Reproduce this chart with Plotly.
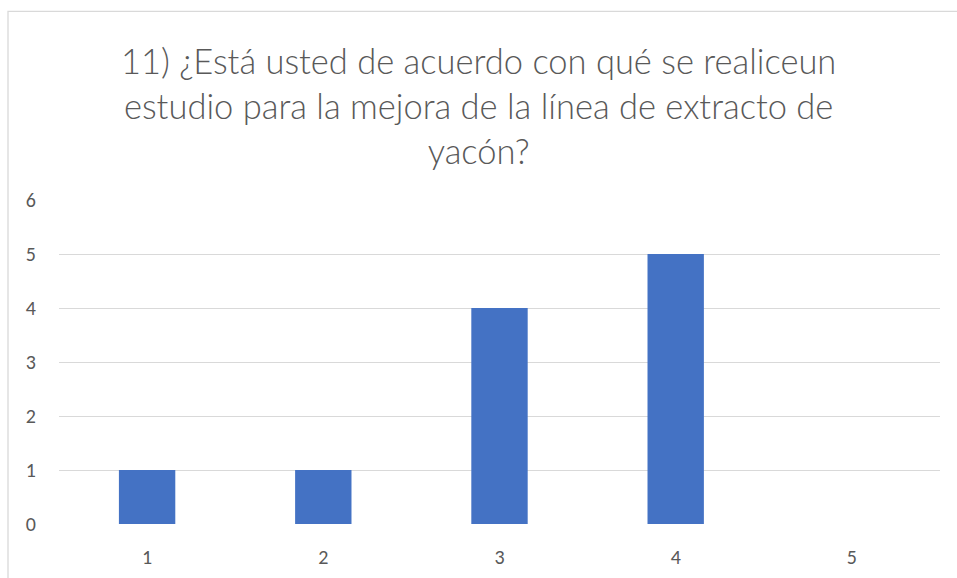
import plotly.graph_objects as go

categories = ["1", "2", "3", "4", "5"]
values = [1, 1, 4, 5, 0]
title_lines = ["11) ¿Está usted de acuerdo con qué se realiceun",
               "estudio para la mejora de la línea de extracto de",
               "yacón?"]

W, H = 957, 578
L, R, T, B = 59, 17, 200, 53.5
pw, ph = W - L - R, H - T - B

fig = go.Figure(go.Bar(x=categories, y=values, marker_color="#4472C4",
                       marker_line_width=0))

FONT = "Carlito, 'Liberation Sans Narrow', 'Open Sans', sans-serif"
TFONT = "Lato, Carlito, 'Open Sans', sans-serif"

def px_x(x):
    return (x - L) / pw

def px_y(y):
    return (H - B - y) / ph

fig.update_layout(
    width=W, height=H,
    margin=dict(l=L, r=R, t=T, b=B),
    paper_bgcolor="white", plot_bgcolor="white",
    bargap=0.68,
    showlegend=False,
    font=dict(family=FONT, color="#595959", size=20),
    xaxis=dict(type="category", showgrid=False, zeroline=False, showline=False,
               automargin=False,
               ticks="", ticklabelstandoff=19, tickfont=dict(size=20, color="#595959")),
    yaxis=dict(range=[0, 6], dtick=1, showgrid=True, gridcolor="#D9D9D9", gridwidth=1.3,
               automargin=False,
               zeroline=False, showline=False, ticks="", ticklabelstandoff=22,
               tickfont=dict(size=20, color="#595959")),
    annotations=[dict(text="<br>".join(title_lines), xref="paper", yref="paper",
                      x=px_x(W / 2), y=px_y(38), xanchor="center", yanchor="top",
                      showarrow=False, align="center",
                      font=dict(family=TFONT, size=34.5, color="#595959", weight=300))],
    shapes=[dict(type="rect", xref="paper", yref="paper",
                 x0=px_x(8), x1=px_x(975), y0=px_y(600), y1=px_y(11),
                 line=dict(color="#D9D9D9", width=1.3), fillcolor="rgba(0,0,0,0)",
                 layer="below")],
)

fig.write_html("out.html")
